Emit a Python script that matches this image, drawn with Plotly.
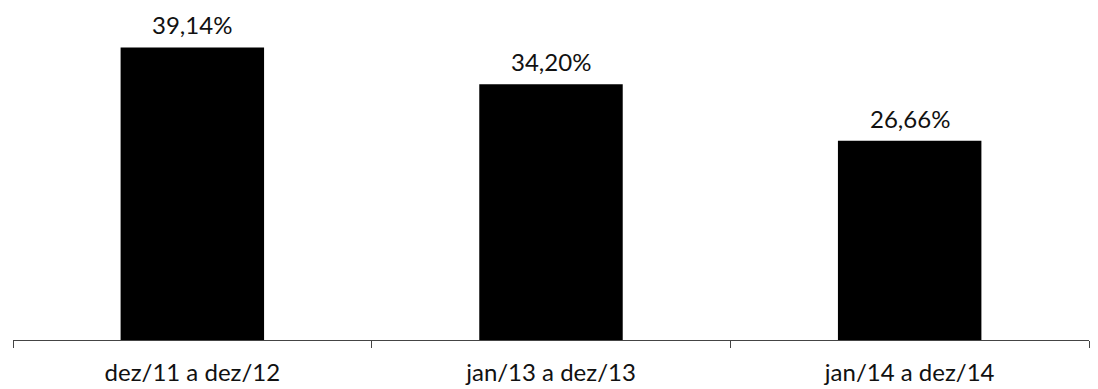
import plotly.graph_objects as go

categories = ["dez/11 a dez/12", "jan/13 a dez/13", "jan/14 a dez/14"]
values = [39.14, 34.20, 26.66]
labels = ["39,14%", "34,20%", "26,66%"]

fig = go.Figure(go.Bar(
    x=categories, y=values,
    marker=dict(color="black", line=dict(width=0)),
    width=0.4,
))
for c, v, t in zip(categories, values, labels):
    fig.add_annotation(x=c, y=v, text=t, showarrow=False, yanchor="bottom", yshift=7,
                       borderpad=0, font=dict(family="Lato", size=24, color="#111"))

# page body has an 8px default margin, so the figure is sized to fit the window
fig.update_layout(
    width=1090, height=381,
    margin=dict(l=5, r=9, t=33, b=49),
    paper_bgcolor="white", plot_bgcolor="white",
    showlegend=False,
    font=dict(family="Lato", size=24, color="#111"),
)
fig.update_xaxes(showline=True, linecolor="#444", linewidth=1, ticks="outside",
                 tickson="boundaries", ticklen=7, tickcolor="#444", showgrid=False,
                 automargin=False, ticklabelstandoff=11,
                 tickfont=dict(family="Lato", size=24, color="#111"))
fig.update_yaxes(range=[0, 40], visible=False, showgrid=False, automargin=False)
fig.write_html("out.html")
